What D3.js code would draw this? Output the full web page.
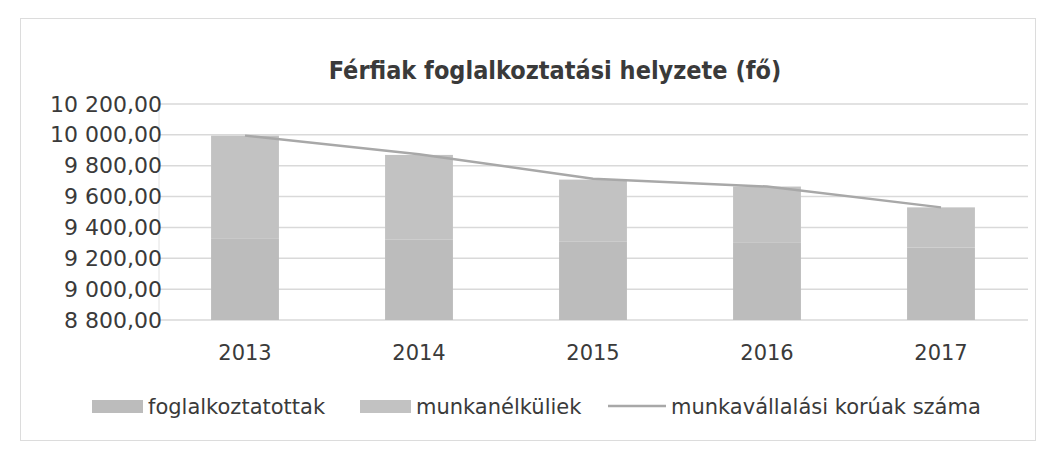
<!DOCTYPE html>
<html>
<head>
<meta charset="utf-8">
<script src="https://cdn.jsdelivr.net/npm/d3@7"></script>
<style>
  body { margin: 0; background: #fff; }
  text { font-family: "DejaVu Sans", sans-serif; fill: #3a3a3a; }
  text.title { font-family: "DejaVu Sans Condensed", "DejaVu Sans", sans-serif; }
</style>
</head>
<body>
<div class="chart"></div>
<script>
// chart data
var years = ["2013", "2014", "2015", "2016", "2017"];
var foglalkoztatottak = [9330, 9320, 9310, 9300, 9270];
var munkanelkuliek = [665, 550, 400, 365, 260];
var munkavallalasiKoruak = [9995, 9875, 9715, 9665, 9530];
var yTicks = [8800, 9000, 9200, 9400, 9600, 9800, 10000, 10200];

var svgWidth = 1047;
var svgHeight = 450;

var margin = { top: 104, right: 19, bottom: 130, left: 158 };
var width = svgWidth - margin.left - margin.right;
var height = svgHeight - margin.top - margin.bottom;

var hu = d3.formatLocale({ decimal: ",", thousands: " ", grouping: [3], currency: ["", ""] });
var fmt = hu.format(",.2f");

var svg = d3.select(".chart")
  .append("svg")
  .attr("width", svgWidth)
  .attr("height", svgHeight);

// outer chart border
svg.append("rect")
  .attr("x", 20.5).attr("y", 18.5)
  .attr("width", 1015).attr("height", 422)
  .attr("fill", "none")
  .attr("stroke", "#dcdcdc");

var chartGroup = svg.append("g")
  .attr("transform", `translate(${margin.left}, ${margin.top})`);

var xScale = d3.scaleBand()
  .domain(years)
  .range([0, width])
  .paddingInner(0.61)
  .paddingOuter(0.305);

var yScale = d3.scaleLinear()
  .domain([8800, 10200])
  .range([height, 0]);

// gridlines
chartGroup.append("g")
  .selectAll("line")
  .data(yTicks)
  .enter()
  .append("line")
  .attr("x1", 0)
  .attr("x2", width)
  .attr("y1", d => yScale(d))
  .attr("y2", d => yScale(d))
  .attr("stroke", "#d9d9d9")
  .attr("stroke-width", 1.5);

chartGroup.append("line")
  .attr("x1", 1).attr("x2", 1)
  .attr("y1", 0).attr("y2", height)
  .attr("stroke", "#e2e2e2");

// y axis labels
var leftAxis = d3.axisLeft(yScale)
  .tickValues(yTicks)
  .tickFormat(fmt)
  .tickSize(0)
  .tickPadding(-4);

var yAxis = chartGroup.append("g").call(leftAxis);
yAxis.select(".domain").remove();
yAxis.selectAll("text")
  .attr("font-size", 22)
  .attr("fill", "#2a2a2a");

// x axis labels
var bottomAxis = d3.axisBottom(xScale).tickSize(0).tickPadding(25);
var xAxis = chartGroup.append("g")
  .attr("transform", `translate(0, ${height})`)
  .call(bottomAxis);
xAxis.select(".domain").remove();
xAxis.selectAll("text")
  .attr("font-size", 21)
  .attr("fill", "#2a2a2a");

// stacked bars
var stackData = years.map((y, i) => ({ year: y, fog: foglalkoztatottak[i], mun: munkanelkuliek[i] }));
var series = d3.stack().keys(["fog", "mun"])(stackData);
var colors = { fog: "#bcbcbc", mun: "#c2c2c2" };

chartGroup.selectAll(".series")
  .data(series)
  .enter()
  .append("g")
  .attr("fill", d => colors[d.key])
  .selectAll("rect")
  .data(d => d)
  .enter()
  .append("rect")
  .attr("x", d => xScale(d.data.year))
  .attr("width", xScale.bandwidth())
  .attr("y", d => yScale(Math.min(d[1], 10200)))
  .attr("height", d => yScale(Math.max(d[0], 8800)) - yScale(Math.min(d[1], 10200)));

// line
var line = d3.line()
  .x((d, i) => xScale(years[i]) + xScale.bandwidth() / 2)
  .y(d => yScale(d));

chartGroup.append("path")
  .datum(munkavallalasiKoruak)
  .attr("d", line)
  .attr("fill", "none")
  .attr("stroke", "#a8a8a8")
  .attr("stroke-width", 2.5);

// title
svg.append("text")
  .attr("class", "title")
  .attr("x", 555)
  .attr("y", 79)
  .attr("text-anchor", "middle")
  .attr("font-size", 25)
  .attr("font-weight", "bold")
  .attr("fill", "#333")
  .text("Férfiak foglalkoztatási helyzete (fő)");

// legend
var legendItems = [
  { label: "foglalkoztatottak", type: "rect", color: colors.fog, x: 92 },
  { label: "munkanélküliek", type: "rect", color: colors.mun, x: 360 },
  { label: "munkavállalási korúak száma", type: "line", color: "#a8a8a8", x: 608 }
];

var legend = svg.append("g").attr("transform", "translate(0, 406)");
legendItems.forEach(function(item) {
  if (item.type === "rect") {
    legend.append("rect")
      .attr("x", item.x).attr("y", -6)
      .attr("width", 51).attr("height", 13)
      .attr("fill", item.color);
  } else {
    legend.append("line")
      .attr("x1", item.x).attr("x2", item.x + 58)
      .attr("y1", 0).attr("y2", 0)
      .attr("stroke", item.color)
      .attr("stroke-width", 2.5);
  }
  legend.append("text")
    .attr("x", item.x + (item.type === "rect" ? 56 : 63))
    .attr("y", 8)
    .attr("font-size", 21)
    .attr("fill", "#333")
    .text(item.label);
});
</script>
</body>
</html>
